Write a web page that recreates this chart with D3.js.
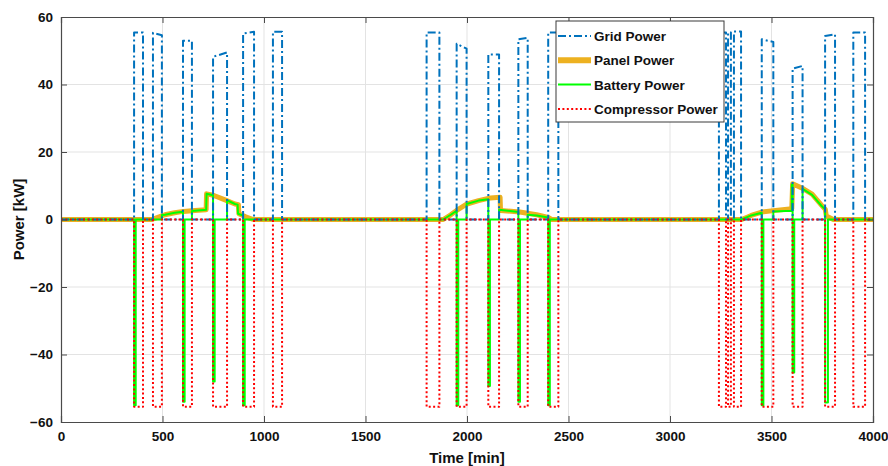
<!DOCTYPE html>
<html>
<head>
<meta charset="utf-8">
<script src="https://cdn.jsdelivr.net/npm/d3@7"></script>
<style>
  body { margin: 0; background: #fff; }
  svg { display: block; font-family: "Liberation Sans", Arial, sans-serif; }
</style>
</head>
<body>
<div id="chart"></div>
<script>
// compressor on/off periods [min]
const onStart = [360, 453, 601, 749, 897, 1044, 1801, 1949, 2105, 2253, 2400, 3241, 3286, 3315, 3452, 3604, 3764, 3903];
const onEnd   = [404, 497, 645, 818, 951, 1089, 1864, 1998, 2158, 2299, 2450, 3276, 3300, 3350, 3509, 3653, 3813, 3961];
// grid power at start / end of each period [kW]
const gridStart = [55.4, 55.3, 53.0, 48.2, 55.1, 55.6, 55.4, 52.1, 48.9, 53.4, 55.4, 55.4, 55.4, 55.7, 53.4, 44.7, 54.4, 55.4];
const gridEnd   = [55.4, 54.6, 53.0, 49.5, 55.6, 55.6, 55.4, 50.6, 48.9, 53.8, 55.4, 55.4, 55.4, 55.7, 52.6, 45.5, 54.9, 55.4];
const compLevel = [-55.5, -55.5, -55.5, -55.5, -55.5, -55.5, -55.5, -55.5, -55.5, -55.5, -55.5, -55.5, -55.5, -55.5, -55.5, -55.5, -55.5, -55.5];

// panel power
const panelT = [0, 447, 480, 512, 560, 603, 660, 715, 717, 750, 808, 857, 874, 876, 910, 947,
                1883, 1920, 1949, 2000, 2057, 2115, 2163, 2165, 2260, 2343, 2400, 2417,
                3353, 3400, 3452, 3520, 3600, 3604, 3657, 3700, 3747, 3765, 3770, 3805, 4000];
const panelV = [0, 0, 0.7, 1.4, 2.0, 2.4, 2.7, 2.9, 7.6, 7.2, 5.8, 4.6, 4.4, 1.7, 0.8, 0,
                0, 1.4, 2.7, 4.6, 5.6, 6.4, 6.6, 2.7, 2.2, 1.4, 0.6, 0,
                0, 1.2, 2.2, 2.7, 3.2, 10.6, 9.1, 7.5, 4.2, 3.0, 1.0, 0, 0];

// battery power
const batteryT = [0, 360, 360, 368, 368, 497, 497, 512, 560, 601, 601, 609, 609, 645, 645, 715, 717, 749, 749, 757, 757, 818, 818, 857, 870, 872, 897, 897, 905, 905,
                  1883, 1920, 1949, 1949, 1957, 1957, 1998, 1998, 2057, 2105, 2105, 2113, 2113, 2158, 2158, 2253, 2253, 2261, 2261, 2299, 2299, 2343, 2400, 2400, 2408, 2408,
                  3353, 3400, 3452, 3452, 3460, 3460, 3509, 3509, 3600, 3600, 3604, 3604, 3612, 3612, 3653, 3653, 3700, 3747, 3764, 3764, 3778, 3778, 4000];
const batteryV = [0, 0, -55, -55, 0, 0, 1.3, 1.4, 2.0, 2.3, -54, -54, 0, 0, 2.5, 2.9, 7.6, 7.2, -48, -48, 0, 0, 5.7, 4.6, 4.4, 1.7, 1.2, -55, -55, 0,
                  0, 1.4, 2.6, -55, -55, 0, 0, 4.6, 5.6, 6.0, -49.3, -49.3, 0, 0, 2.9, 2.2, -54, -54, 0, 0, 1.4, 1.2, 0.6, -55, -55, 0,
                  0, 1.2, 2.0, -55, -55, 0, 0, 2.4, 2.6, 10.4, 10.4, -45.3, -45.3, 0, 0, 9.1, 7.3, 4.0, 3.0, -54.2, -54.2, 0, 0];

const xTicks = [0, 500, 1000, 1500, 2000, 2500, 3000, 3500, 4000];
const yTicks = [-60, -40, -20, 0, 20, 40, 60];
const legendNames = ["Grid Power", "Panel Power", "Battery Power", "Compressor Power"];

const W = 888, H = 466;
const margin = {top: 17, right: 15, bottom: 44, left: 61};
const iw = W - margin.left - margin.right, ih = H - margin.top - margin.bottom;

const x = d3.scaleLinear().domain([0, 4000]).range([0, iw]);
const y = d3.scaleLinear().domain([-60, 60]).range([ih, 0]);

// build step traces
let grid = [[0, 0]], comp = [[0, 0]];
onStart.forEach((s, i) => {
  grid.push([s, 0], [s, gridStart[i]], [onEnd[i], gridEnd[i]], [onEnd[i], 0]);
  comp.push([s, 0], [s, compLevel[i]], [onEnd[i], compLevel[i]], [onEnd[i], 0]);
});
grid.push([4000, 0]); comp.push([4000, 0]);
const panel = panelT.map((t, i) => [t, panelV[i]]);
const battery = batteryT.map((t, i) => [t, batteryV[i]]);

const svg = d3.select("#chart").append("svg").attr("width", W).attr("height", H);
svg.append("rect").attr("width", W).attr("height", H).attr("fill", "#fff");
const g = svg.append("g").attr("transform", `translate(${margin.left},${margin.top})`);

// grid lines
g.append("g").selectAll("line").data(xTicks.slice(1, -1)).enter().append("line")
  .attr("x1", d => x(d)).attr("x2", d => x(d)).attr("y1", 0).attr("y2", ih)
  .attr("stroke", "#e3e3e3").attr("stroke-width", 1);
g.append("g").selectAll("line").data(yTicks.slice(1, -1)).enter().append("line")
  .attr("y1", d => y(d)).attr("y2", d => y(d)).attr("x1", 0).attr("x2", iw)
  .attr("stroke", "#e3e3e3").attr("stroke-width", 1);

const styles = {
  grid: {stroke: "#0072BD", width: 2, dash: "8,3,2,3"},
  panel: {stroke: "#EDB120", width: 5, dash: null},
  battery: {stroke: "#00FF00", width: 2, dash: null},
  comp: {stroke: "#FF0000", width: 2, dash: "2,2.4"}
};

const line = d3.line().x(d => x(d[0])).y(d => y(d[1]));
const plot = g.append("g");
[["panel", panel], ["battery", battery], ["grid", grid], ["comp", comp]].forEach(([k, data]) => {
  plot.append("path").datum(data).attr("d", line)
    .attr("fill", "none").attr("stroke", styles[k].stroke)
    .attr("stroke-width", styles[k].width)
    .attr("stroke-dasharray", styles[k].dash)
    .attr("stroke-linejoin", "round");
});

// axes box
const axCol = "#4a4a4a";
const xb = g.append("g").attr("transform", `translate(0,${ih})`)
  .call(d3.axisBottom(x).tickValues(xTicks).tickSize(-6).tickPadding(9).tickFormat(d3.format("d")));
const xt = g.append("g").call(d3.axisTop(x).tickValues(xTicks).tickSize(-6).tickFormat(""));
const yl = g.append("g").call(d3.axisLeft(y).tickValues(yTicks).tickSize(-6).tickPadding(8));
const yr = g.append("g").attr("transform", `translate(${iw},0)`)
  .call(d3.axisRight(y).tickValues(yTicks).tickSize(-6).tickFormat(""));
[xb, xt, yl, yr].forEach(a => {
  a.select(".domain").attr("stroke", axCol).attr("stroke-width", 1.2);
  a.selectAll(".tick line").attr("stroke", axCol);
  a.selectAll("text").attr("font-size", 13.5).attr("font-weight", "bold")
    .attr("fill", "#111").attr("font-family", "'Liberation Sans', Arial, sans-serif");
});

// axis labels
svg.append("text").attr("x", margin.left + iw / 2).attr("y", 463)
  .attr("text-anchor", "middle").attr("font-size", 15).attr("font-weight", "bold")
  .attr("fill", "#111").text("Time [min]");
svg.append("text").attr("transform", `translate(24,${margin.top + ih / 2}) rotate(-90)`)
  .attr("text-anchor", "middle").attr("font-size", 15).attr("font-weight", "bold")
  .attr("fill", "#111").text("Power [kW]");

// legend
const lg = svg.append("g").attr("transform", "translate(556,21)");
lg.append("rect").attr("width", 168).attr("height", 101)
  .attr("fill", "#fff").attr("stroke", "#3a3a3a").attr("stroke-width", 1);
const keys = ["grid", "panel", "battery", "comp"];
keys.forEach((k, i) => {
  const yy = 15 + i * 24.3;
  lg.append("line").attr("x1", 2).attr("x2", 35).attr("y1", yy).attr("y2", yy)
    .attr("stroke", styles[k].stroke)
    .attr("stroke-width", k === "panel" ? 6 : styles[k].width)
    .attr("stroke-dasharray", styles[k].dash);
  lg.append("text").attr("x", 38).attr("y", yy + 5)
    .attr("font-size", 13.5).attr("font-weight", "bold").attr("fill", "#111")
    .text(legendNames[i]);
});
</script>
</body>
</html>
